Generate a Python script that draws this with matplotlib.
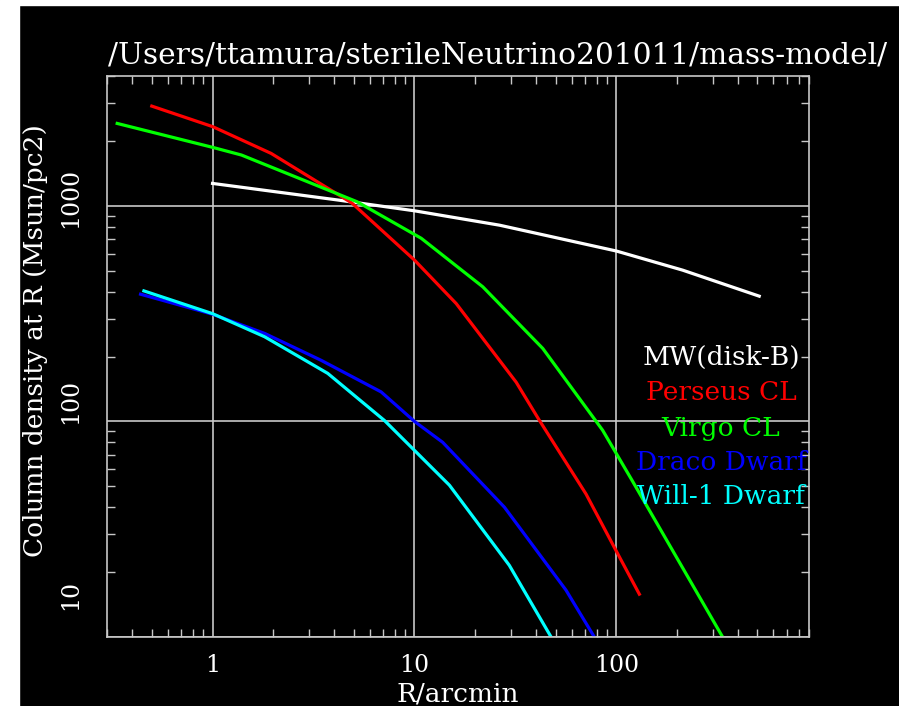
import numpy as np
import matplotlib
matplotlib.use('Agg')
import matplotlib.pyplot as plt
from matplotlib.patches import Rectangle
from matplotlib.transforms import ScaledTranslation
from matplotlib.ticker import LogLocator, NullFormatter

plt.rcParams['font.family'] = ['DejaVu Serif']

# values (R in arcmin, density in Msun/pc2)
mw_r = [1.0, 4.2, 10.0, 26.4, 100.0, 213.0, 510.0]
mw_s = [1270, 1063, 948, 813, 617, 503, 381]

per_r = [0.50, 1.0, 1.95, 4.9, 10.0, 16.1, 31.9, 41.6, 70.8, 100.0, 130.0]
per_s = [2900, 2330, 1750, 1030, 560, 352, 152, 101, 46, 25, 15.8]

vir_r = [0.337, 1.0, 1.39, 5.2, 10.8, 21.8, 43.2, 85.5, 120.0, 336.0]
vir_s = [2410, 1867, 1720, 1044, 707, 421, 218, 91, 53, 10]

dra_r = [0.44, 1.0, 1.81, 3.45, 6.84, 10.0, 13.8, 27.9, 56.3, 77.8]
dra_s = [389, 314, 256, 192, 137, 100, 80, 40, 16.5, 10]

wil_r = [0.457, 1.0, 1.81, 3.72, 7.1, 14.9, 29.5, 47.5]
wil_s = [403, 316, 247, 167, 101, 50.6, 21.5, 10]

names = ['MW(disk-B)', 'Perseus CL', 'Virgo CL', 'Draco Dwarf', 'Will-1 Dwarf']
colors = ['white', '#ff0000', '#00ff00', '#0000ff', '#00ffff']

fig = plt.figure(figsize=(8.99, 7.06), dpi=100, facecolor='black')
fig.add_artist(Rectangle((0, 0), 19/899., 1, transform=fig.transFigure, color='white', zorder=-1))
fig.add_artist(Rectangle((0, 1-5/706.), 1, 5/706., transform=fig.transFigure, color='white', zorder=-1))

ax = fig.add_axes([107/899., 69/706., 702/899., 561/706.])
ax.set_facecolor('black')

for (r, s), c in zip([(mw_r, mw_s), (per_r, per_s), (vir_r, vir_s), (dra_r, dra_s), (wil_r, wil_s)], colors):
    ax.plot(r, s, color=c, lw=2.3)

ax.set_xscale('log')
ax.set_yscale('log')
ax.set_xlim(0.3, 900)
ax.set_ylim(10, 4000)

gc = '#c8c8c8'
for sp in ax.spines.values():
    sp.set_color(gc)
    sp.set_linewidth(1.2)
ax.grid(True, which='major', color=gc, lw=1.2)

ax.set_xticks([1, 10, 100])
ax.set_xticklabels(['1', '10', '100'])
ax.set_yticks([10, 100, 1000])
ax.set_yticklabels(['10', '100', '1000'], rotation=90, va='center')
ax.xaxis.set_minor_locator(LogLocator(base=10, subs=np.arange(2, 10)))
ax.yaxis.set_minor_locator(LogLocator(base=10, subs=np.arange(2, 10)))
ax.xaxis.set_minor_formatter(NullFormatter())
ax.yaxis.set_minor_formatter(NullFormatter())
ax.tick_params(which='both', direction='in', top=True, right=True, colors=gc, labelcolor='white', labelsize=17)
ax.tick_params(which='major', length=0, pad=12)
ax.tick_params(axis='y', which='major', pad=18)
ax.tick_params(which='minor', length=6, width=1)

# y labels sit a bit above their ticks in the original
for lab, dy in zip(ax.get_yticklabels(), [42, 20, 8]):
    lab.set_transform(lab.get_transform() + ScaledTranslation(0, dy/100., fig.dpi_scale_trans))

ax.set_xlabel('R/arcmin', color='white', fontsize=19)
ax.xaxis.set_label_coords(0.5, -0.08)
ax.set_ylabel('Column density at R (Msun/pc2)', color='white', fontsize=19)
ax.yaxis.set_label_coords(-0.084, 0.529)

fig.text(108/899., 1-63/706., '/Users/ttamura/sterileNeutrino201011/mass-model/',
         color='white', fontsize=21.3, ha='left', va='baseline')

leg_y = [0.499, 0.4367, 0.3725, 0.3119, 0.2496]
for n, c, y in zip(names, colors, leg_y):
    ax.text(0.8746, y, n, color=c, fontsize=19, ha='center', va='center', transform=ax.transAxes)

fig.savefig('out.png', dpi=100, facecolor='black')
